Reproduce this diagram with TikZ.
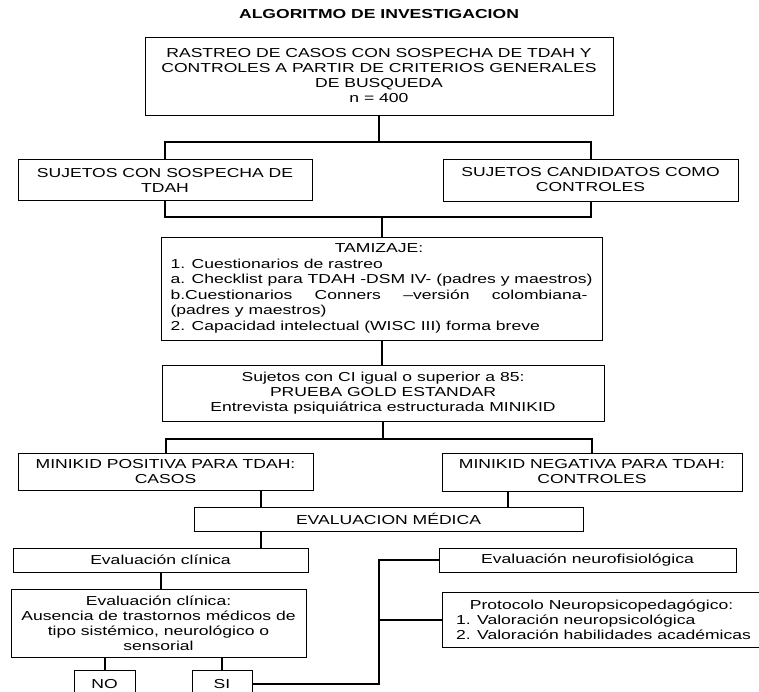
\documentclass[tikz,border=0pt]{standalone}
\usepackage{fontspec}
\setmainfont{Liberation Sans}[FakeStretch=1.35]
\usetikzlibrary{positioning,calc}

\begin{document}
\begin{tikzpicture}[
    x=1pt, y=-1pt,
    every node/.style={align=center},
    box/.style={rectangle, draw=black, line width=0.9pt, inner sep=0pt, font=\fontsize{13}{15}\selectfont},
    link/.style={line width=2pt, black}
]
\useasboundingbox (0,0) rectangle (759,692);

% Title
\node[font=\fontsize{13}{15}\selectfont\bfseries] (title) at (379,14) {ALGORITMO DE INVESTIGACION};

% Search and groups
\node[box, minimum width=468pt, minimum height=78pt] (rastreo) at (379,76) {RASTREO DE CASOS CON SOSPECHA DE TDAH Y\\CONTROLES A PARTIR DE CRITERIOS GENERALES\\DE BUSQUEDA\\n = 400};
\node[box, minimum width=294pt, minimum height=41pt] (sosp) at (165,180) {SUJETOS CON SOSPECHA DE\\TDAH};
\node[box, minimum width=295pt, minimum height=42pt] (cand) at (590.5,180) {SUJETOS CANDIDATOS COMO\\CONTROLES};

% Screening
\node[box, align=left, minimum width=441pt, minimum height=103pt, font=\fontsize{13}{15.5}\selectfont] (tamiz) at (381.5,288.5) {\makebox[417pt]{TAMIZAJE:}\\
  1. Cuestionarios de rastreo\\
  a. Checklist para TDAH -DSM IV- (padres y maestros)\\
  \makebox[417pt][s]{b.Cuestionarios Conners –versión colombiana-}\\
  (padres y maestros)\\
  2. Capacidad intelectual (WISC III) forma breve};
\node[box, minimum width=442pt, minimum height=56pt] (ci) at (383,393) {Sujetos con CI igual o superior a 85:\\PRUEBA GOLD ESTANDAR\\Entrevista psiquiátrica estructurada MINIKID};

% Gold standard result
\node[box, minimum width=295pt, minimum height=37pt] (pos) at (165.5,471.5) {MINIKID POSITIVA PARA TDAH:\\CASOS};
\node[box, minimum width=300pt, minimum height=38pt] (neg) at (592,472) {MINIKID NEGATIVA PARA TDAH:\\CONTROLES};
\node[box, minimum width=389pt, minimum height=24pt] (medica) at (388.5,519) {EVALUACION MÉDICA};

% Medical evaluation
\node[box, minimum width=295pt, minimum height=24pt] (evalc) at (160.5,560) {Evaluación clínica};
\node[box, minimum width=295pt, minimum height=68pt] (evalc2) at (158.5,623) {Evaluación clínica:\\Ausencia de trastornos médicos de\\tipo sistémico, neurológico o\\sensorial};
\node[box, minimum width=61pt, minimum height=28pt] (no) at (104.5,684) {NO};
\node[box, minimum width=60pt, minimum height=28pt] (si) at (222,684) {SI};
\node[box, minimum width=297pt, minimum height=24pt] (neuro) at (587.5,560) {Evaluación neurofisiológica};
\node[box, align=left, minimum width=323pt, minimum height=55pt] (proto) at (603.5,619.5) {\makebox[291pt]{Protocolo Neuropsicopedagógico:}\\
  1. Valoración neuropsicológica\\
  2. Valoración habilidades académicas};

% Connector points
\coordinate (split1) at (379,142);
\coordinate (join1) at (381.5,217);
\coordinate (split2) at (383,439);
\coordinate (colA) at (261,0);
\coordinate (colB) at (508,0);
\coordinate (bus) at (379,0);

% Flow
\draw[link] (rastreo.south) -- (split1);
\draw[link] (sosp.north) |- (split1) -| (cand.north);
\draw[link] (sosp.south) |- (join1) -| (cand.south);
\draw[link] (join1) -- (tamiz.north);
\draw[link] (tamiz.south) -- (tamiz.south |- ci.north);
\draw[link] (ci.south) -- (split2);
\draw[link] (pos.north) |- (split2) -| (neg.north);
\draw[link] (colA |- pos.south) -- (colA |- medica.north);
\draw[link] (colB |- neg.south) -- (colB |- medica.north);
\draw[link] (colA |- medica.south) -- (colA |- evalc.north);
\draw[link] (evalc.south) -- (evalc.south |- evalc2.north);
\draw[link] (no.north |- evalc2.south) -- (no.north);
\draw[link] (si.north |- evalc2.south) -- (si.north);
\draw[link] (si.east) -| (bus |- neuro.west) -- (neuro.west);
\draw[link] (bus |- proto.west) -- (proto.west);

\end{tikzpicture}
\end{document}
